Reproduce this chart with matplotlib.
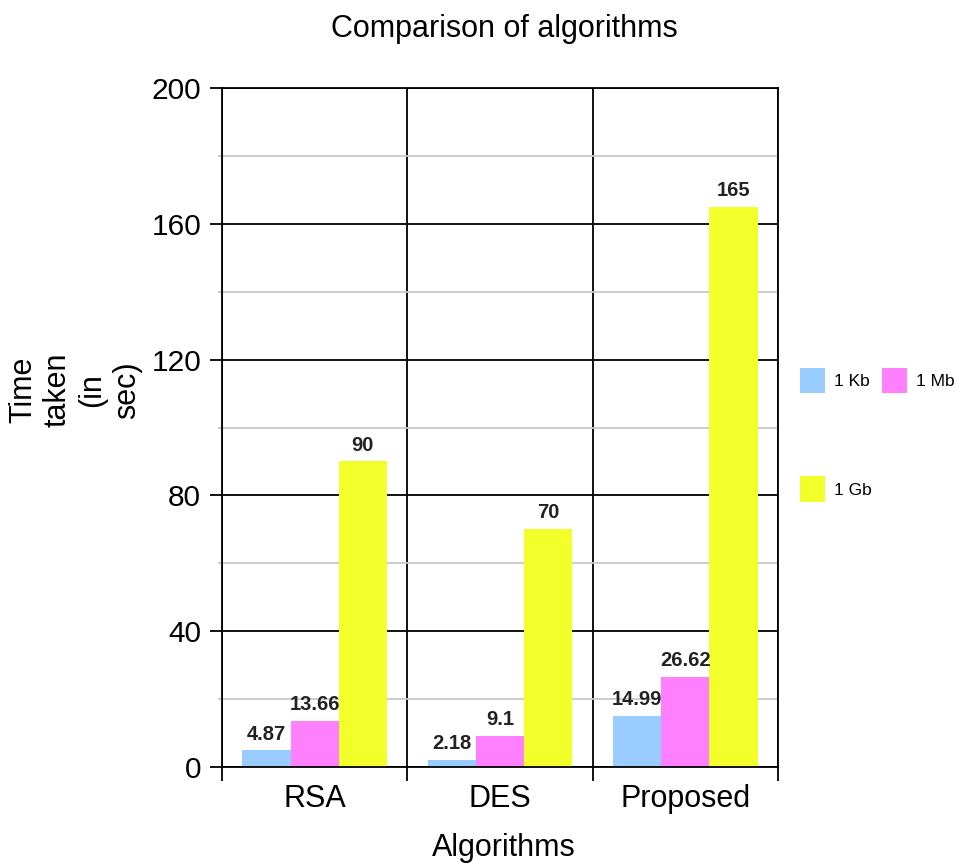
import matplotlib
matplotlib.use("Agg")
import matplotlib.pyplot as plt
from matplotlib.patches import Patch
import numpy as np

categories = ["RSA", "DES", "Proposed"]
series_names = ["1 Kb", "1 Mb", "1 Gb"]
kb_values = [4.87, 2.18, 14.99]
mb_values = [13.66, 9.1, 26.62]
gb_values = [90, 70, 165]
value_labels = [["4.87", "2.18", "14.99"], ["13.66", "9.1", "26.62"], ["90", "70", "165"]]
colors = ["#99ccff", "#ff80ff", "#f2ff2a"]

plt.rcParams['font.family'] = ['Liberation Sans', 'DejaVu Sans']

fig = plt.figure(figsize=(9.6, 8.66), dpi=100)
ax = fig.add_axes([222/960, 1-767/866, (778-222)/960, (767-88)/866])

x = np.arange(len(categories))
w = 0.26
series = [kb_values, mb_values, gb_values]
handles = []
for i, (vals, c) in enumerate(zip(series, colors)):
    pos = x + (i - 1) * w
    bars = ax.bar(pos, vals, width=w, color=c, zorder=3, linewidth=0)
    for b, lab in zip(bars, value_labels[i]):
        ax.annotate(lab, (b.get_x() + b.get_width()/2, b.get_height()),
                    xytext=(0, 5), textcoords='offset points',
                    ha='center', va='bottom', fontsize=14.5, fontweight='bold',
                    color='#222222', zorder=4)
    handles.append(Patch(facecolor=c, edgecolor='none', label=series_names[i]))

ax.set_xlim(-0.5, len(categories) - 0.5)
ax.set_ylim(0, 200)

ax.set_yticks(np.arange(0, 201, 40))
ax.set_yticks(np.arange(20, 200, 40), minor=True)
ax.yaxis.grid(True, which='major', color='black', linewidth=1.3, zorder=1)
ax.yaxis.grid(True, which='minor', color='#c8c8c8', linewidth=1.3, zorder=1)
ax.tick_params(axis='y', which='major', length=9, width=1.3, labelsize=21.5, pad=6)
ax.tick_params(axis='y', which='minor', length=3, width=1.3, color='#c8c8c8')

ax.set_xticks(np.arange(-0.5, len(categories), 1.0))
ax.set_xticklabels([])
ax.set_xticks(x, minor=True)
ax.set_xticklabels(categories, minor=True)
ax.xaxis.grid(True, which='major', color='black', linewidth=1.3, zorder=1)
ax.tick_params(axis='x', which='major', length=10, width=1.3)
ax.tick_params(axis='x', which='minor', length=0, labelsize=22, pad=12)

for s in ax.spines.values():
    s.set_color('black')
    s.set_linewidth(1.3)
    s.set_zorder(5)
ax.set_axisbelow(True)

fig.text(504/960, 1-29/866, "Comparison of algorithms", ha='center', va='center', fontsize=22)
fig.text(504/960, 1-848/866, "Algorithms", ha='center', va='center', fontsize=22)
fig.text(75/960, 1-390/866, "Time\ntaken\n(in\nsec)", ha='center', va='center',
         rotation=90, fontsize=22, linespacing=1.2, multialignment='center')

leg = fig.legend([handles[0], handles[2], handles[1]],
                 [series_names[0], series_names[2], series_names[1]],
                 ncol=2, loc='upper left', bbox_to_anchor=(800/960, 1-368/866),
                 frameon=False, fontsize=12.5, handlelength=1.45, handleheight=1.85,
                 labelspacing=4.8, columnspacing=0.6, handletextpad=0.5,
                 borderaxespad=0, borderpad=0)

fig.savefig("out.png", dpi=100)
